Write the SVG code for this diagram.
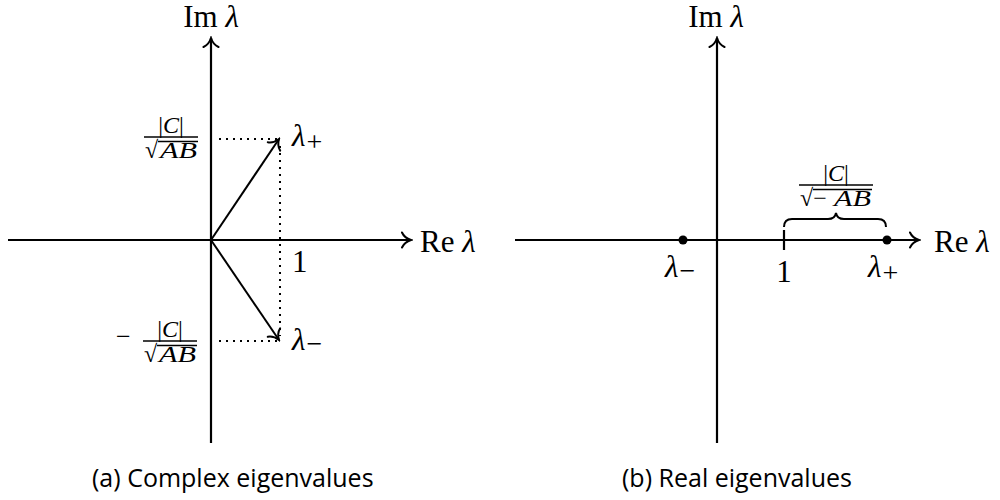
<svg xmlns="http://www.w3.org/2000/svg" width="1000" height="500" viewBox="0 0 1000 500">
<style>
.ax{stroke:#000;stroke-width:2.2;fill:none}
.vec{stroke:#000;stroke-width:2;fill:none}
.dot{stroke:#000;stroke-width:2;fill:none;stroke-dasharray:2 5}
.t{font-family:"Liberation Serif",serif;fill:#000}
.m{font-size:31px}
.s{font-size:24px}
.sub{font-size:28px;font-style:normal}
.i{font-style:italic}
.cap{font-family:"Open Sans","Liberation Sans",sans-serif;font-size:25px;fill:#000}
.fb{stroke:#000;stroke-width:1.3}
</style>
<defs>
<marker id="to" markerUnits="userSpaceOnUse" viewBox="-12 -10 14 20" markerWidth="14" markerHeight="20" refX="0" refY="0" orient="auto">
<path d="M-9,-7.5 C-7,-3 -2.5,-0.8 0,0 C-2.5,0.8 -7,3 -9,7.5" stroke="#000" stroke-width="2" fill="none" stroke-linecap="round"/>
</marker>
</defs>
<g id="connectors">
<line class="ax" x1="211" y1="443" x2="211" y2="38" marker-end="url(#to)"/>
<line class="ax" x1="8" y1="240" x2="411" y2="240" marker-end="url(#to)"/>
<line class="vec" x1="211" y1="240" x2="279" y2="139" marker-end="url(#to)"/>
<line class="vec" x1="211" y1="240" x2="279" y2="340" marker-end="url(#to)"/>
<line class="dot" x1="219" y1="139" x2="280" y2="139"/>
<line class="dot" x1="280" y1="146" x2="280" y2="336"/>
<line class="dot" x1="219" y1="341" x2="278" y2="341"/>
<line class="ax" x1="717" y1="443" x2="717" y2="38" marker-end="url(#to)"/>
<line class="ax" x1="515" y1="240" x2="919" y2="240" marker-end="url(#to)"/>
<line class="ax" x1="784" y1="230" x2="784" y2="250"/>
<path d="M784,227 Q784,219 792,219 L828,219 Q835,219 836,213 Q837,219 844,219 L878,219 Q886,219 886,227" stroke="#000" stroke-width="2" fill="none"/>
</g>
<g id="axes-a-labels">
<text class="t m" x="211" y="27" text-anchor="middle">Im <tspan class="i">λ</tspan></text>
<text class="t m" x="420" y="252">Re <tspan class="i">λ</tspan></text>
<text class="t m" x="292" y="272">1</text>
</g>
<g id="lambda-plus-a">
<text class="t m i" x="292" y="146">λ<tspan class="sub" dx="1" dy="5">+</tspan></text>
</g>
<g id="lambda-minus-a">
<text class="t m i" x="292" y="350">λ<tspan class="sub" dx="1" dy="3">−</tspan></text>
</g>
<g id="frac-upper">
<text class="t s" x="171" y="133" text-anchor="middle">|<tspan class="i">C</tspan>|</text>
<line class="fb" x1="144" y1="137" x2="198" y2="137"/>
<text class="t s" x="145" y="158">√</text>
<line class="fb" x1="158" y1="141.5" x2="198" y2="141.5"/>
<text class="t s i" x="160" y="158" textLength="37" lengthAdjust="spacingAndGlyphs">AB</text>
</g>
<g id="frac-lower">
<text class="t" font-size="26" x="116" y="345">−</text>
<text class="t s" x="170" y="337" text-anchor="middle">|<tspan class="i">C</tspan>|</text>
<line class="fb" x1="143" y1="341" x2="197" y2="341"/>
<text class="t s" x="144" y="362">√</text>
<line class="fb" x1="157" y1="345.5" x2="197" y2="345.5"/>
<text class="t s i" x="159" y="362" textLength="37" lengthAdjust="spacingAndGlyphs">AB</text>
</g>
<g id="axes-b-labels">
<text class="t m" x="716" y="27" text-anchor="middle">Im <tspan class="i">λ</tspan></text>
<text class="t m" x="934" y="252">Re <tspan class="i">λ</tspan></text>
<text class="t m" x="784" y="282" text-anchor="middle">1</text>
</g>
<g id="lambda-minus-b">
<circle cx="683" cy="240" r="4.5" fill="#000"/>
<text class="t m i" x="665" y="277">λ<tspan class="sub" dx="1" dy="3">−</tspan></text>
</g>
<g id="lambda-plus-b">
<circle cx="887" cy="240" r="4.5" fill="#000"/>
<text class="t m i" x="868" y="277">λ<tspan class="sub" dx="1" dy="5">+</tspan></text>
</g>
<g id="frac-b">
<text class="t s" x="836" y="181" text-anchor="middle">|<tspan class="i">C</tspan>|</text>
<line class="fb" x1="799" y1="185" x2="873" y2="185"/>
<text class="t s" x="800" y="206">√−</text>
<line class="fb" x1="813" y1="189.5" x2="872" y2="189.5"/>
<text class="t s i" x="834" y="206" textLength="37" lengthAdjust="spacingAndGlyphs">AB</text>
</g>
<g id="captions">
<text class="cap" x="92" y="487">(a) Complex eigenvalues</text>
<text class="cap" x="622" y="487">(b) Real eigenvalues</text>
</g>
</svg>
